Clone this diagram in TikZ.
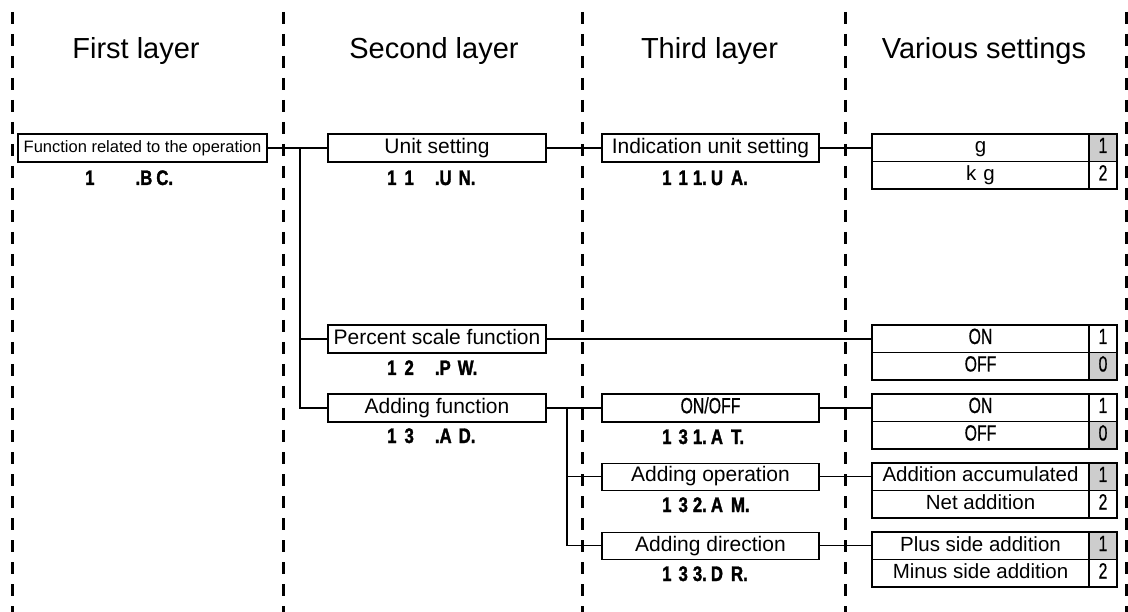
\documentclass[tikz,border=0pt]{standalone}
\usepackage{fontspec}
\setmainfont{Liberation Sans}
\newfontfamily\codefont[FakeStretch=0.8,FakeBold=1.5]{Liberation Sans}
\newfontfamily\narrowfont[FakeStretch=0.72,FakeBold=0.6]{Liberation Sans}
\definecolor{selgray}{RGB}{205,205,205}
\begin{document}
\begin{tikzpicture}[x=1pt,y=-1pt,
  divider/.style={line width=3pt, dash pattern=on 12pt off 10pt},
  title/.style={anchor=base, inner sep=0pt, font=\fontsize{29}{32}\selectfont},
  box/.style={draw, line width=1.3pt, minimum height=28pt, inner sep=0pt,
    text height=15pt, text depth=4.5pt, font=\fontsize{21}{24}\selectfont},
  cell/.style={draw, line width=1.3pt, minimum width=217pt, minimum height=27.5pt, inner sep=0pt,
    text height=15pt, text depth=4.5pt, font=\fontsize{20.5}{24}\selectfont},
  ncell/.style={draw, line width=1.3pt, minimum width=28pt, minimum height=27.5pt, inner sep=0pt,
    text height=15pt, text depth=4.5pt, font=\narrowfont\fontsize{22}{24}\selectfont},
  nar/.style={font=\narrowfont\fontsize{22}{24}\selectfont},
  sel/.style={fill=selgray},
  code/.style={anchor=base west, inner sep=0pt, font=\codefont\bfseries\fontsize{21}{24}\selectfont},
  conn/.style={line width=1.3pt}]
\useasboundingbox (0,0) rectangle (1128,612);
% dividers
\draw[divider] (12,12) -- (12,612);
\draw[divider] (283,12) -- (283,612);
\draw[divider] (582,12) -- (582,612);
\draw[divider] (845,12) -- (845,612);
\draw[divider] (1126,12) -- (1126,612);
% titles
\node[title] (t1) at (136,59) {First layer};
\node[title] (t2) at (434,59) {Second layer};
\node[title] (t3) at (709.5,59) {Third layer};
\node[title] (t4) at (984,59) {Various settings};
% first layer
\node[box, minimum width=249pt, font=\fontsize{16.5}{20}\selectfont, text height=12pt, text depth=3.5pt] (f1) at (142.5,148) {Function related to the operation};
\node[code] (c1) at (85,185) {1\hspace{41pt}.B\hspace{4pt}C.};
% second layer
\node[box, minimum width=218pt] (u) at (437,148) {Unit setting};
\node[code] (c2) at (387,185) {1\hspace{8pt}1\hspace{21pt}.U\hspace{7pt}N.};
\node[box, minimum width=218pt] (p) at (437,339) {Percent scale function};
\node[code] (c4) at (387,375) {1\hspace{8pt}2\hspace{21pt}.P\hspace{7pt}W.};
\node[box, minimum width=218pt] (a) at (437,408) {Adding function};
\node[code] (c5) at (387,443) {1\hspace{8pt}3\hspace{21pt}.A\hspace{7pt}D.};
% third layer
\node[box, minimum width=217pt] (iu) at (710.5,148) {Indication unit setting};
\node[code] (c3) at (662,185) {1\hspace{7pt}1\hspace{5pt}1.\hspace{4pt}U\hspace{8pt}A.};
\node[box, minimum width=217pt, nar] (oo) at (710.5,408) {ON/OFF};
\node[code] (c6) at (662,444) {1\hspace{7pt}3\hspace{5pt}1.\hspace{4pt}A\hspace{8pt}T.};
\node[box, minimum width=217pt, minimum height=27pt] (ao) at (710.5,476.75) {Adding operation};
\node[code] (c7) at (662,512) {1\hspace{7pt}3\hspace{5pt}2.\hspace{4pt}A\hspace{8pt}M.};
\node[box, minimum width=217pt, minimum height=27pt] (ad) at (710.5,545.75) {Adding direction};
\node[code] (c8) at (662,581) {1\hspace{7pt}3\hspace{5pt}3.\hspace{4pt}D\hspace{8pt}R.};
% settings
\node[cell] (s1a) at (980.5,147.75) {g};
\node[ncell, sel] (s1an) at (1103,147.75) {1};
\node[cell] (s1b) at (980.5,175.25) {k\hspace{7pt}g};
\node[ncell] (s1bn) at (1103,175.25) {2};
\node[cell, nar] (s2a) at (980.5,338.75) {ON};
\node[ncell] (s2an) at (1103,338.75) {1};
\node[cell, nar] (s2b) at (980.5,366.25) {OFF};
\node[ncell, sel] (s2bn) at (1103,366.25) {0};
\node[cell, nar] (s3a) at (980.5,407.75) {ON};
\node[ncell] (s3an) at (1103,407.75) {1};
\node[cell, nar] (s3b) at (980.5,435.25) {OFF};
\node[ncell, sel] (s3bn) at (1103,435.25) {0};
\node[cell] (s4a) at (980.5,476.75) {Addition accumulated};
\node[ncell, sel] (s4an) at (1103,476.75) {1};
\node[cell] (s4b) at (980.5,504.25) {Net addition};
\node[ncell] (s4bn) at (1103,504.25) {2};
\node[cell] (s5a) at (980.5,545.75) {Plus side addition};
\node[ncell, sel] (s5an) at (1103,545.75) {1};
\node[cell] (s5b) at (980.5,573.25) {Minus side addition};
\node[ncell] (s5bn) at (1103,573.25) {2};
% connectors
\coordinate (tr1) at (300,148);
\coordinate (tr2) at (567,408);
\draw[conn] (f1.east) -- (u.west);
\draw[conn] (tr1) |- (a.west);
\draw[conn] (tr1 |- p.west) -- (p.west);
\draw[conn] (u.east) -- (iu.west);
\draw[conn] (iu.east) -- (iu.east -| s1a.west);
\draw[conn] (p.east) -- (p.east -| s2a.west);
\draw[conn] (a.east) -- (oo.west);
\draw[conn] (tr2) |- (ad.west);
\draw[conn] (tr2 |- ao.west) -- (ao.west);
\draw[conn] (oo.east) -- (oo.east -| s3a.west);
\draw[conn] (ao.east) -- (ao.east -| s4a.west);
\draw[conn] (ad.east) -- (ad.east -| s5a.west);
\end{tikzpicture}
\end{document}
